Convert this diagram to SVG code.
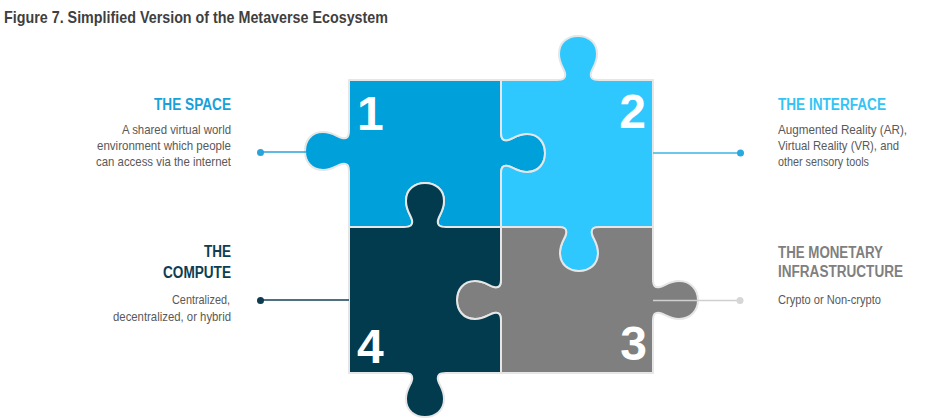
<svg xmlns="http://www.w3.org/2000/svg" width="928" height="418" viewBox="0 0 928 418">
<style>
text{font-family:"Liberation Sans",Arial,sans-serif}
.title{font-size:17px;font-weight:bold;fill:#3f3f3f}
.head{font-size:16px;font-weight:bold}
.desc{font-size:13px;fill:#595959}
.num{font-size:48px;font-weight:bold;fill:#ffffff}
.piece{stroke:#e6e6e6;stroke-width:2;stroke-linejoin:round}
.conn{stroke-width:1.5;fill:none}
</style>
<rect width="928" height="418" fill="#ffffff"/>
<text class="title" x="4" y="23" textLength="384" lengthAdjust="spacingAndGlyphs">Figure 7. Simplified Version of the Metaverse Ecosystem</text>

<g id="piece1">
<path class="piece" fill="#00a0db" d="M349,80 H501 V132 C501,139 503,141 508,140 C513,139 517,134 527,134 C539,134 545,143 545,153 C545,163 539,172 527,172 C517,172 513,167 508,166 C503,165 501,167 501,174 V227 H446 C439,227 437,225 438,220 C439,215 444,211 444,201 C444,189 435,183 425,183 C415,183 406,189 406,201 C406,211 411,215 412,220 C413,225 411,227 404,227 H349 V172 C349,165 347,163 342,164 C337,165 333,170 323,170 C311,170 305,161 305,151 C305,141 311,132 323,132 C333,132 337,137 342,138 C347,139 349,137 349,130 Z"/>
<text class="num" x="357" y="130">1</text>
</g>

<g id="piece2">
<path class="piece" fill="#2ec8ff" d="M501,80 H557 C564,80 566,78 565,73 C564,68 559,64 559,54 C559,42 568,36 578,36 C588,36 597,42 597,54 C597,64 592,68 591,73 C590,78 592,80 599,80 H653 V227 H600 C593,227 591,229 592,234 C593,239 598,243 598,253 C598,265 589,271 579,271 C569,271 560,265 560,253 C560,243 565,239 566,234 C567,229 565,227 558,227 H501 V174 C501,167 503,165 508,166 C513,167 517,172 527,172 C539,172 545,163 545,153 C545,143 539,134 527,134 C517,134 513,139 508,140 C503,141 501,139 501,132 Z"/>
<text class="num" x="646" y="128" text-anchor="end">2</text>
</g>

<g id="piece3">
<path class="piece" fill="#7f7f7f" d="M501,227 H558 C565,227 567,229 566,234 C565,239 560,243 560,253 C560,265 569,271 579,271 C589,271 598,265 598,253 C598,243 593,239 592,234 C591,229 593,227 600,227 H653 V279 C653,286 655,288 660,287 C665,286 669,281 679,281 C691,281 698,290 698,300 C698,310 691,319 679,319 C669,319 665,314 660,313 C655,312 653,314 653,321 V373 H501 V321 C501,314 499,312 494,313 C489,314 485,319 475,319 C463,319 457,310 457,300 C457,290 463,281 475,281 C485,281 489,286 494,287 C499,288 501,286 501,279 Z"/>
<text class="num" x="647" y="360" text-anchor="end">3</text>
</g>

<g id="piece4">
<path class="piece" fill="#023a4e" d="M349,227 H404 C411,227 413,225 412,220 C411,215 406,211 406,201 C406,189 415,183 425,183 C435,183 444,189 444,201 C444,211 439,215 438,220 C437,225 439,227 446,227 H501 V279 C501,286 499,288 494,287 C489,286 485,281 475,281 C463,281 457,290 457,300 C457,310 463,319 475,319 C485,319 489,314 494,313 C499,312 501,314 501,321 V373 H446 C439,373 437,375 438,380 C439,385 444,389 444,399 C444,411 435,417 425,417 C415,417 406,411 406,399 C406,389 411,385 412,380 C413,375 411,373 404,373 H349 Z"/>
<text class="num" x="357" y="363">4</text>
</g>

<g id="connectors">
<line class="conn" x1="260" y1="152" x2="306" y2="152" stroke="#2aa3d8"/>
<circle cx="260.5" cy="152.5" r="3.5" fill="#2aa3d8"/>
<line class="conn" x1="653" y1="153" x2="740" y2="153" stroke="#3ab4e6"/>
<circle cx="740.5" cy="153" r="3.5" fill="#2aa8e0"/>
<line class="conn" x1="260" y1="300" x2="349" y2="300" stroke="#14405a"/>
<circle cx="260.5" cy="300.5" r="3.5" fill="#0e3b4f"/>
<line class="conn" x1="653" y1="300.5" x2="740" y2="300.5" stroke="#cfcfcf"/>
<circle cx="740" cy="300.5" r="3.5" fill="#d6d6d6"/>
</g>

<g id="label-space">
<text class="head" x="154" y="110" fill="#18a0da" textLength="77" lengthAdjust="spacingAndGlyphs">THE SPACE</text>
<text class="desc" x="122" y="134" textLength="109" lengthAdjust="spacingAndGlyphs">A shared virtual world</text>
<text class="desc" x="97" y="150" textLength="134" lengthAdjust="spacingAndGlyphs">environment which people</text>
<text class="desc" x="96" y="166" textLength="135" lengthAdjust="spacingAndGlyphs">can access via the internet</text>
</g>

<g id="label-compute">
<text class="head" x="204" y="257" fill="#0e3d52" textLength="27" lengthAdjust="spacingAndGlyphs">THE</text>
<text class="head" x="163" y="278" fill="#0e3d52" textLength="68" lengthAdjust="spacingAndGlyphs">COMPUTE</text>
<text class="desc" x="172" y="304" textLength="58" lengthAdjust="spacingAndGlyphs">Centralized,</text>
<text class="desc" x="113" y="321" textLength="118" lengthAdjust="spacingAndGlyphs">decentralized,  or hybrid</text>
</g>

<g id="label-interface">
<text class="head" x="778" y="110" fill="#33c4f5" textLength="108" lengthAdjust="spacingAndGlyphs">THE INTERFACE</text>
<text class="desc" x="778" y="134" textLength="129" lengthAdjust="spacingAndGlyphs">Augmented Reality (AR),</text>
<text class="desc" x="778" y="150" textLength="121" lengthAdjust="spacingAndGlyphs">Virtual Reality (VR), and</text>
<text class="desc" x="778" y="166" textLength="91" lengthAdjust="spacingAndGlyphs">other sensory tools</text>
</g>

<g id="label-monetary">
<text class="head" x="778" y="258" fill="#7f7f7f" textLength="105" lengthAdjust="spacingAndGlyphs">THE MONETARY</text>
<text class="head" x="778" y="277" fill="#7f7f7f" textLength="125" lengthAdjust="spacingAndGlyphs">INFRASTRUCTURE</text>
<text class="desc" x="778" y="304" textLength="103" lengthAdjust="spacingAndGlyphs">Crypto  or Non-crypto</text>
</g>
</svg>
